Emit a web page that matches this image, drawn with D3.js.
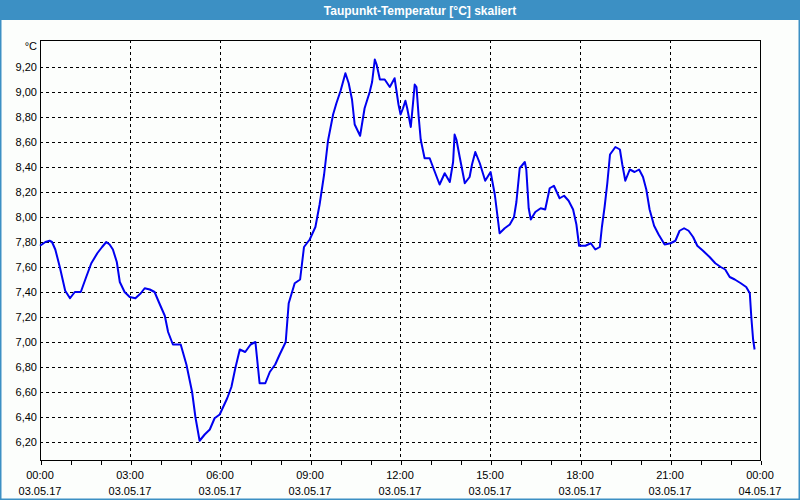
<!DOCTYPE html>
<html><head><meta charset="utf-8">
<script src="https://cdn.jsdelivr.net/npm/d3@7"></script>
<style>
html,body{margin:0;padding:0;background:#fcfefc;}
svg{display:block;}
</style></head>
<body>
<script>
const title = "Taupunkt-Temperatur [°C] skaliert";
const unitLabel = "°C";
// time in hours since 03.05.17 00:00
const hours = [0,0.18,0.32,0.4,0.51,0.66,0.84,1.0,1.16,1.36,1.54,1.71,1.91,2.07,2.21,2.32,2.43,2.56,2.66,2.82,2.99,3.18,3.36,3.49,3.66,3.82,3.96,4.16,4.27,4.43,4.69,4.88,5.07,5.18,5.32,5.49,5.66,5.82,5.99,
6.24,6.38,6.51,6.66,6.84,7.02,7.18,7.32,7.51,7.66,7.84,7.99,8.19,8.29,8.49,8.67,8.80,8.99,9.18,9.32,9.47,9.6,9.77,9.88,10.02,10.18,10.29,10.4,10.49,10.67,10.82,10.99,11.07,11.16,11.22,11.33,11.49,11.66,11.82,
11.95,12.02,12.1,12.18,12.24,12.36,12.43,12.49,12.55,12.62,12.69,12.82,12.99,13.13,13.32,13.49,13.66,13.77,13.82,13.88,13.99,14.16,14.32,14.4,14.51,14.66,14.84,15.02,15.16,15.32,15.49,15.66,15.8,15.88,15.99,16.16,16.21,16.29,16.36,16.51,16.69,16.84,16.99,17.13,17.32,17.47,17.62,17.77,17.88,17.97,
18.18,18.36,18.51,18.66,18.73,18.82,18.91,19.0,19.18,19.33,19.41,19.51,19.66,19.82,19.97,20.1,20.21,20.32,20.47,20.62,20.82,21.02,21.18,21.32,21.47,21.62,21.77,21.91,22.1,22.32,22.51,22.69,22.84,22.99,23.16,23.36,23.54,23.66,23.71,23.77,23.82];
const values = [7.77,7.80,7.81,7.80,7.74,7.60,7.41,7.35,7.40,7.40,7.52,7.63,7.71,7.76,7.80,7.78,7.74,7.64,7.48,7.40,7.36,7.35,7.39,7.43,7.42,7.40,7.32,7.21,7.08,6.98,6.98,6.82,6.60,6.40,6.21,6.26,6.30,6.39,6.42,
6.55,6.64,6.79,6.94,6.92,6.98,7.00,6.67,6.67,6.76,6.82,6.90,7.00,7.31,7.47,7.50,7.76,7.82,7.92,8.10,8.34,8.61,8.82,8.91,9.01,9.15,9.07,8.94,8.74,8.65,8.87,9.00,9.08,9.26,9.22,9.10,9.10,9.04,9.11,
8.90,8.82,8.87,8.93,8.87,8.72,8.90,9.06,9.04,8.81,8.62,8.47,8.47,8.38,8.26,8.35,8.28,8.44,8.66,8.62,8.48,8.27,8.32,8.42,8.52,8.43,8.29,8.36,8.18,7.87,7.91,7.94,8.00,8.12,8.39,8.44,8.38,8.07,7.98,8.04,8.07,8.06,8.23,8.25,8.15,8.17,8.13,8.06,7.94,7.77,
7.77,7.79,7.74,7.76,7.92,8.08,8.27,8.50,8.56,8.54,8.42,8.29,8.38,8.36,8.38,8.32,8.22,8.06,7.93,7.86,7.78,7.79,7.81,7.89,7.91,7.89,7.84,7.77,7.73,7.68,7.63,7.60,7.58,7.52,7.50,7.47,7.44,7.39,7.20,7.02,6.94];
const yTicks = [6.2,6.4,6.6,6.8,7.0,7.2,7.4,7.6,7.8,8.0,8.2,8.4,8.6,8.8,9.0,9.2];
const xTickHours = [0,3,6,9,12,15,18,21,24];
const xTickTimes = ["00:00","03:00","06:00","09:00","12:00","15:00","18:00","21:00","00:00"];
const xTickDates = ["03.05.17","03.05.17","03.05.17","03.05.17","03.05.17","03.05.17","03.05.17","03.05.17","04.05.17"];

const W = 800, H = 500;
const frame = "#3c90c4";
const L = 40, R = 760, T = 40, B = 460;
const font = "'Liberation Sans', Arial, sans-serif";

const svg = d3.select("body").append("svg").attr("width", W).attr("height", H);
svg.append("rect").attr("width", W).attr("height", H).attr("fill", "#fcfefc");
// title bar & window frame
svg.append("rect").attr("x",0).attr("y",0).attr("width",W).attr("height",20).attr("fill",frame);
svg.append("rect").attr("x",0).attr("y",0).attr("width",1.5).attr("height",H).attr("fill",frame);
svg.append("rect").attr("x",W-1.5).attr("y",0).attr("width",1.5).attr("height",H).attr("fill",frame);
svg.append("rect").attr("x",0).attr("y",H-1.5).attr("width",W).attr("height",1.5).attr("fill",frame);
svg.append("text").attr("x",420).attr("y",14.5).attr("text-anchor","middle")
  .attr("fill","#ffffff").attr("font-family",font).attr("font-weight","bold").attr("font-size",12).text(title);

const x = d3.scaleLinear().domain([0,24]).range([L,R]);
const y = d3.scaleLinear().domain([6.056,9.416]).range([B,T]);

// grid
const g = svg.append("g").attr("shape-rendering","crispEdges");
g.selectAll(".hg").data(yTicks).enter().append("line")
  .attr("x1",L).attr("x2",R).attr("y1",d=>Math.round(y(d))+0.5).attr("y2",d=>Math.round(y(d))+0.5)
  .attr("stroke","#000").attr("stroke-width",1).attr("stroke-dasharray","3,3");
g.selectAll(".vg").data(xTickHours.slice(1,-1)).enter().append("line")
  .attr("x1",d=>Math.round(x(d))+0.5).attr("x2",d=>Math.round(x(d))+0.5).attr("y1",T).attr("y2",B)
  .attr("stroke","#000").attr("stroke-width",1).attr("stroke-dasharray","3,3");

// line
const line = d3.line().x((d,i)=>x(hours[i])).y(d=>y(d));
svg.append("path").datum(values).attr("d",line).attr("fill","none")
  .attr("stroke","#0000f0").attr("stroke-width",2).attr("stroke-linejoin","round");

// frame box
g.append("rect").attr("x",L+0.5).attr("y",T+0.5).attr("width",R-L).attr("height",B-T)
  .attr("fill","none").attr("stroke","#000").attr("stroke-width",1);

// x axis ticks (hourly)
const xAxis = d3.axisBottom(x).tickValues(d3.range(0,25,1)).tickSize(4).tickFormat("");
const xa = svg.append("g").attr("transform",`translate(0.5,${B+0.5})`).call(xAxis);
xa.select(".domain").remove();
xa.selectAll("line").attr("stroke","#000").attr("shape-rendering","crispEdges");

// x labels
const lab = svg.append("g").attr("font-family",font).attr("font-size",11).attr("fill","#000");
lab.selectAll(".xt").data(xTickHours).enter().append("text")
  .attr("x",d=>x(d)).attr("y",479).attr("text-anchor","middle").text((d,i)=>xTickTimes[i]);
lab.selectAll(".xd").data(xTickHours).enter().append("text")
  .attr("x",d=>x(d)).attr("y",495).attr("text-anchor","middle").text((d,i)=>xTickDates[i]);
// y labels
const fmt = d => d3.format(".2f")(d).replace(".", ",");
lab.selectAll(".yt").data(yTicks).enter().append("text")
  .attr("x",37).attr("y",d=>y(d)+4).attr("text-anchor","end").text(fmt);
lab.append("text").attr("x",37).attr("y",50).attr("text-anchor","end").text(unitLabel);
</script>
</body></html>
